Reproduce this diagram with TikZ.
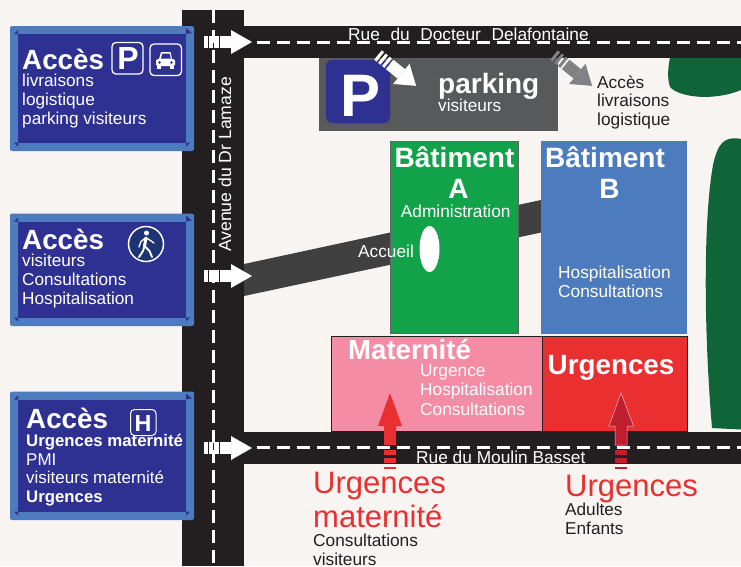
\documentclass[tikz,border=0pt]{standalone}
\usepackage{fontspec}
\setmainfont{Liberation Sans}
\definecolor{bgc}{HTML}{F8F4F1}
\definecolor{road}{HTML}{231F20}
\definecolor{signblue}{HTML}{2E3192}
\definecolor{edgeblue}{HTML}{4C7CBE}
\definecolor{gparking}{HTML}{58595B}
\definecolor{darkroad}{HTML}{404040}
\definecolor{batA}{HTML}{11A24A}
\definecolor{pinkm}{HTML}{F48CA6}
\definecolor{redu}{HTML}{E92F2F}
\definecolor{darkred}{HTML}{BE1E2D}
\definecolor{forest}{HTML}{0F6537}
\definecolor{txt}{HTML}{231F20}
\definecolor{pedblue}{HTML}{1C3474}
\definecolor{arrowgray}{HTML}{808285}
\tikzset{
  x=1pt,y=-1pt,
  lbl/.style={inner sep=0pt,anchor=base west,align=left},
  white text/.style={lbl,text=white},
  center text/.style={inner sep=0pt,anchor=base,text=white},
  signface/.style={fill=signblue},
  signedge/.style={fill=edgeblue,rounded corners=2pt},
  roaddash/.style={draw=white,line width=3pt,dash pattern=on 13pt off 7pt},
  iconbox/.style={draw=white,line width=1.3pt,rounded corners=4pt,fill=signblue},
}
\newcommand{\fs}[2]{\fontsize{#1}{#2}\selectfont}
\newcommand{\accsign}[2]{% top, bottom of the outer edge
  \fill[signedge] (10,#1) rectangle (194,#2);
  \fill[signface] (18,#1+8) rectangle (186,#2-8.5);
  \fill[signface] (186,#1+2) -- (192,#1+7) -- (186,#1+8) -- cycle;
  \fill[signface] (18,#1+8) -- (14,#1+8) -- (18,#1+4) -- cycle;
  \fill[signface] (18,#2-8.5) -- (14,#2-8.5) -- (18,#2-4.5) -- cycle;
  \fill[signface] (186,#2-8.5) -- (190,#2-8.5) -- (186,#2-4.5) -- cycle;
}
\begin{document}
\begin{tikzpicture}
\useasboundingbox (0,0) rectangle (741,566);
\fill[bgc] (0,0) rectangle (741,566);

% forest shapes
\fill[forest] (670,57) .. controls (668,68) and (667,78) .. (670,87) .. controls (680,98) and (715,101) .. (741,90) -- (741,57) -- cycle;
\fill[forest] (741,139) .. controls (725,136) and (718,142) .. (713,165) .. controls (704,215) and (703,320) .. (712,428) -- (741,429.5) -- cycle;

% accueil road
\fill[darkroad] (244,264) -- (541,200) -- (541,232.5) -- (244,296) -- cycle;

% horizontal roads
\fill[road] (243,26) rectangle (741,57.5);
\fill[road] (244,431.7) rectangle (741,464);
% parking block
\fill[gparking] (319,57.5) rectangle (558,131);
\fill[signblue,rounded corners=6pt] (326,60) rectangle (390,123);
\node[inner sep=0pt,anchor=base,text=white,font=\bfseries\fs{60}{60}] (bigp) at (361,116) {P};
\node[white text,font=\bfseries\fs{28}{28}] (parktxt) at (438,93) {parking};
\node[white text,font=\fs{17.2}{17.2}] (parksub) at (438,111) {visiteurs};

% vertical road
\fill[road] (182,10) rectangle (244,566);
\draw[roaddash] (213,10) -- (213,566);

% road dashes
\draw[roaddash] (257,42) -- (741,42);
\draw[roaddash,dash pattern=on 13pt off 7pt] (257,447.5) -- (741,447.5);

% road labels
\node[lbl,text=white,font=\fs{17.3}{17.3}] (rue1) at (348,40) {Rue\hspace{5.8pt} du\hspace{5.8pt} Docteur\hspace{5.8pt} Delafontaine};
\node[inner sep=0pt,anchor=base west,rotate=90,text=white,font=\fs{17.6}{17.6}] (rue3) at (231,252) {Avenue du Dr Lamaze};

% entry arrows
\foreach \yy in {42,276,448} {
  \fill[white] (204,\yy-6) rectangle (207.5,\yy+6);
  \fill[white] (209,\yy-6) rectangle (213,\yy+6);
  \fill[white] (214,\yy-6) rectangle (219,\yy+6);
  \fill[white] (220,\yy-6) rectangle (231,\yy+6);
  \fill[white] (231,\yy-12) -- (252,\yy) -- (231,\yy+12) -- cycle;
}

% parking arrows
\begin{scope}[shift={(378,55)},rotate=-39]
  \fill[white] (0,-6) rectangle (3,6); \fill[white] (5,-6) rectangle (8,6); \fill[white] (10,-6) rectangle (13,6);
  \fill[white] (15,-6) rectangle (30,6);
  \fill[white] (30,-13) -- (49,0) -- (30,13) -- cycle;
\end{scope}
\begin{scope}[shift={(554,55)},rotate=-39]
  \fill[arrowgray] (0,-6) rectangle (3,6); \fill[arrowgray] (5,-6) rectangle (8,6); \fill[arrowgray] (10,-6) rectangle (13,6);
  \fill[arrowgray] (15,-6) rectangle (30,6);
  \fill[arrowgray] (30,-13) -- (49,0) -- (30,13) -- cycle;
\end{scope}
\node[lbl,text=txt,font=\fs{17.3}{18.6}] (acc) at (597,125.2) {Accès\\livraisons\\logistique};

% building A
\draw[road!70,fill=batA,line width=1pt] (390,141) rectangle (518,333);
% building B
\fill[edgeblue] (541,141) rectangle (687,334);
\node[center text,font=\bfseries\fs{28}{28}] (ba) at (454.5,167) {Bâtiment};
\node[center text,font=\bfseries\fs{28}{28}] (ba2) at (458.5,198) {A};
\node[center text,font=\fs{17.3}{17.3}] (adm) at (455.7,217) {Administration};
\node[center text,font=\fs{17.3}{17.3}] (acl) at (386,257) {Accueil};
\fill[white] (429.5,249) ellipse [x radius=10,y radius=23];
\node[center text,font=\bfseries\fs{28}{28}] (bb) at (605,167) {Bâtiment};
\node[center text,font=\bfseries\fs{28}{28}] (bb2) at (609.5,198) {B};
\node[lbl,text=white,font=\fs{17.3}{18.6}] (bbt) at (558,297) {Hospitalisation\\Consultations};

% maternite + urgences
\draw[road,fill=pinkm,line width=0.8pt] (331,336.5) rectangle (542,431);
\draw[road,fill=redu,line width=0.8pt] (542,336.5) rectangle (687,431);
\node[white text,font=\bfseries\fs{27.6}{28}] (mat) at (348,359) {Maternité};
\node[lbl,text=white,font=\fs{17.3}{19.2}] (matt) at (420,415) {Urgence\\Hospitalisation\\Consultations};
\node[white text,font=\bfseries\fs{27.8}{28}] (urg) at (547.5,374) {Urgences};

% red arrows
\fill[redu] (390,393) -- (402,426) -- (396,426) -- (396,445) -- (384,445) -- (384,426) -- (378,426) -- cycle;
\fill[redu] (384,450) rectangle (396,454.5);
\fill[redu] (384,458) rectangle (396,463);
\fill[redu] (384,467) rectangle (396,469);
\draw[pinkm!60!white,line width=0.5pt,fill=darkred] (621,393) -- (633.5,426) -- (627,426) -- (627,445) -- (615,445) -- (615,426) -- (609,426) -- cycle;
\fill[darkred] (615,450) rectangle (627,454.5);
\fill[darkred] (615,458) rectangle (627,463);
\fill[darkred] (615,467) rectangle (627,469);

\node[lbl,text=white,font=\fs{17.3}{17.3}] (rue2) at (416,463) {Rue du Moulin Basset};

% bottom labels
\node[lbl,text=redu,font=\fs{31}{34.5}] (um) at (313,527.5) {Urgences\\maternité};
\node[lbl,text=txt,font=\fs{17.3}{18.6}] (umt) at (313,565) {Consultations\\visiteurs};
\node[lbl,text=redu,font=\fs{31}{34.5}] (ua) at (565,496) {Urgences};
\node[lbl,text=txt,font=\fs{17.2}{19}] (uat) at (565,534) {Adultes\\Enfants};

% sign 1
\accsign{26}{151}
\node[white text,font=\bfseries\fs{27.8}{28}] (s1) at (22,69) {Accès};
\node[lbl,text=white,font=\fs{17.2}{19}] (s1t) at (22,124) {livraisons\\logistique\\parking visiteurs};
\draw[iconbox] (112,42.5) rectangle (143,74);
\node[center text,font=\bfseries\fs{32}{32}] (s1p) at (128,69.5) {P};
\draw[iconbox] (150,44) rectangle (181.5,75.5);
\fill[white,rounded corners=1.5pt] (156,59) rectangle (175,66);
\fill[white] (159,59) -- (161,52) -- (170.5,52) -- (172,59) -- cycle;
\fill[signblue] (161,58.5) -- (162.3,53.5) -- (169.5,53.5) -- (170.8,58.5) -- cycle;
\fill[white] (157,66) rectangle (161,68.5);
\fill[white] (170,66) rectangle (174,68.5);
\fill[signblue] (159.5,62.5) circle (1.3);
\fill[signblue] (171.5,62.5) circle (1.3);

% sign 2
\accsign{213.5}{326}
\node[white text,font=\bfseries\fs{27.8}{28}] (s2) at (22,249) {Accès};
\node[lbl,text=white,font=\fs{17.2}{18.6}] (s2t) at (22,304) {visiteurs\\Consultations\\Hospitalisation};
\draw[draw=white,line width=1.5pt,fill=pedblue] (146,244) circle (17.5);
\fill[white] (146.5,233) circle (2.5);
\draw[white,line width=3pt,line cap=round,line join=round] (146,238) -- (144.5,246);
\draw[white,line width=1.9pt,line cap=round,line join=round] (144.5,246) -- (149.5,251) -- (152,257);
\draw[white,line width=1.9pt,line cap=round,line join=round] (144.5,246) -- (143,251) -- (139,257);
\draw[white,line width=1.3pt,line cap=round,line join=round] (146,237.5) -- (154,243);
\draw[white,line width=1.3pt,line cap=round,line join=round] (146,237.5) -- (141,241.5) -- (139,247);

% sign 3
\accsign{391.5}{520}
\node[white text,font=\bfseries\fs{27.8}{28}] (s3) at (26,428) {Accès};
\draw[iconbox,line width=1pt] (130.5,409.5) rectangle (156,435.5);
\node[center text,font=\bfseries\fs{23.3}{24}] (s3h) at (143,431.5) {H};
\node[lbl,text=white,font=\fs{17}{18.4}] (s3t) at (26,502) {\textbf{\fontsize{16.8}{18.4}\selectfont Urgences maternité}\\PMI\\visiteurs maternité\\\textbf{\fontsize{16.8}{18.4}\selectfont Urgences}};
\end{tikzpicture}
\end{document}
